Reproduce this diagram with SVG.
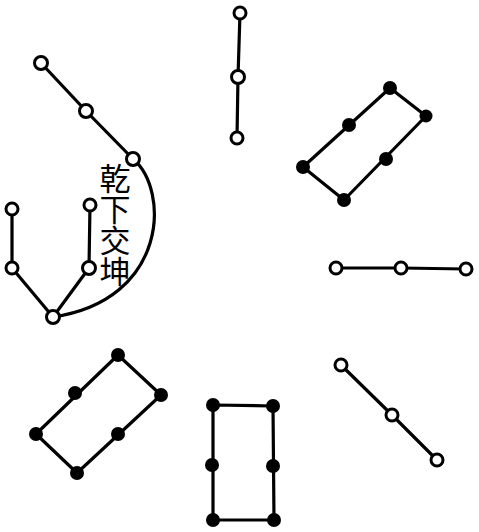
<svg xmlns="http://www.w3.org/2000/svg" width="479" height="532" viewBox="0 0 479 532">
<style>
.e{fill:none;stroke:#000;stroke-width:3.2;stroke-linecap:round;stroke-linejoin:round}
.o{fill:#fff;stroke:#000;stroke-width:3}
.f{fill:#000}
.t{font-family:"Noto Sans CJK SC","Noto Sans CJK TC",sans-serif;font-size:31px;fill:#000;writing-mode:vertical-rl;letter-spacing:0px}
</style>
<rect width="479" height="532" fill="#fff"/>
<g id="connectors">
<polyline class="e" points="41,63 86,111 133,159"/>
<path class="e" d="M133,159 C170,190 168,300 53,317"/>
<polyline class="e" points="12,209 12,268 53,317 89,268 90,205"/>
<polyline class="e" points="240,13 238,77 237,138"/>
<polygon class="e" points="303,167 390,88 426,116 344,200"/>
<polyline class="e" points="336,268 401,268 466,269"/>
<polyline class="e" points="341,365 392,415 437,460"/>
<polygon class="e" points="213,405 273,406 274,520 213,520"/>
<polygon class="e" points="36,434 118,355 161,395 77,473"/>
</g>
<g id="qian-kun">
<circle class="o" cx="41" cy="63" r="6.5"/>
<circle class="o" cx="86" cy="111" r="6.5"/>
<circle class="o" cx="133" cy="159" r="6.5"/>
<circle class="o" cx="12" cy="209" r="6"/>
<circle class="o" cx="12" cy="268" r="6"/>
<circle class="o" cx="90" cy="205" r="6"/>
<circle class="o" cx="89" cy="268" r="6.5"/>
<circle class="o" cx="53" cy="317" r="6.5"/>
</g>
<g id="label">
<text class="t" x="115" y="163">乾下交坤</text>
</g>
<g id="top">
<circle class="o" cx="240" cy="13" r="6"/>
<circle class="o" cx="238" cy="77" r="6.5"/>
<circle class="o" cx="237" cy="138" r="6"/>
</g>
<g id="top-right">
<circle class="f" cx="390" cy="88" r="7"/>
<circle class="f" cx="426" cy="116" r="6.5"/>
<circle class="f" cx="349" cy="125" r="7"/>
<circle class="f" cx="386" cy="159" r="7"/>
<circle class="f" cx="303" cy="167" r="7"/>
<circle class="f" cx="344" cy="200" r="7"/>
</g>
<g id="right">
<circle class="o" cx="336" cy="268" r="6"/>
<circle class="o" cx="401" cy="268" r="6"/>
<circle class="o" cx="466" cy="269" r="6"/>
</g>
<g id="lower-right">
<circle class="o" cx="341" cy="365" r="6"/>
<circle class="o" cx="392" cy="415" r="6"/>
<circle class="o" cx="437" cy="460" r="6"/>
</g>
<g id="bottom">
<circle class="f" cx="213" cy="405" r="7"/>
<circle class="f" cx="273" cy="406" r="7"/>
<circle class="f" cx="212" cy="465" r="7"/>
<circle class="f" cx="273" cy="466" r="7"/>
<circle class="f" cx="213" cy="520" r="7"/>
<circle class="f" cx="274" cy="520" r="7"/>
</g>
<g id="bottom-left">
<circle class="f" cx="118" cy="355" r="7"/>
<circle class="f" cx="161" cy="395" r="7"/>
<circle class="f" cx="75" cy="393" r="7"/>
<circle class="f" cx="118" cy="434" r="7"/>
<circle class="f" cx="36" cy="434" r="7"/>
<circle class="f" cx="77" cy="473" r="7"/>
</g>
</svg>
